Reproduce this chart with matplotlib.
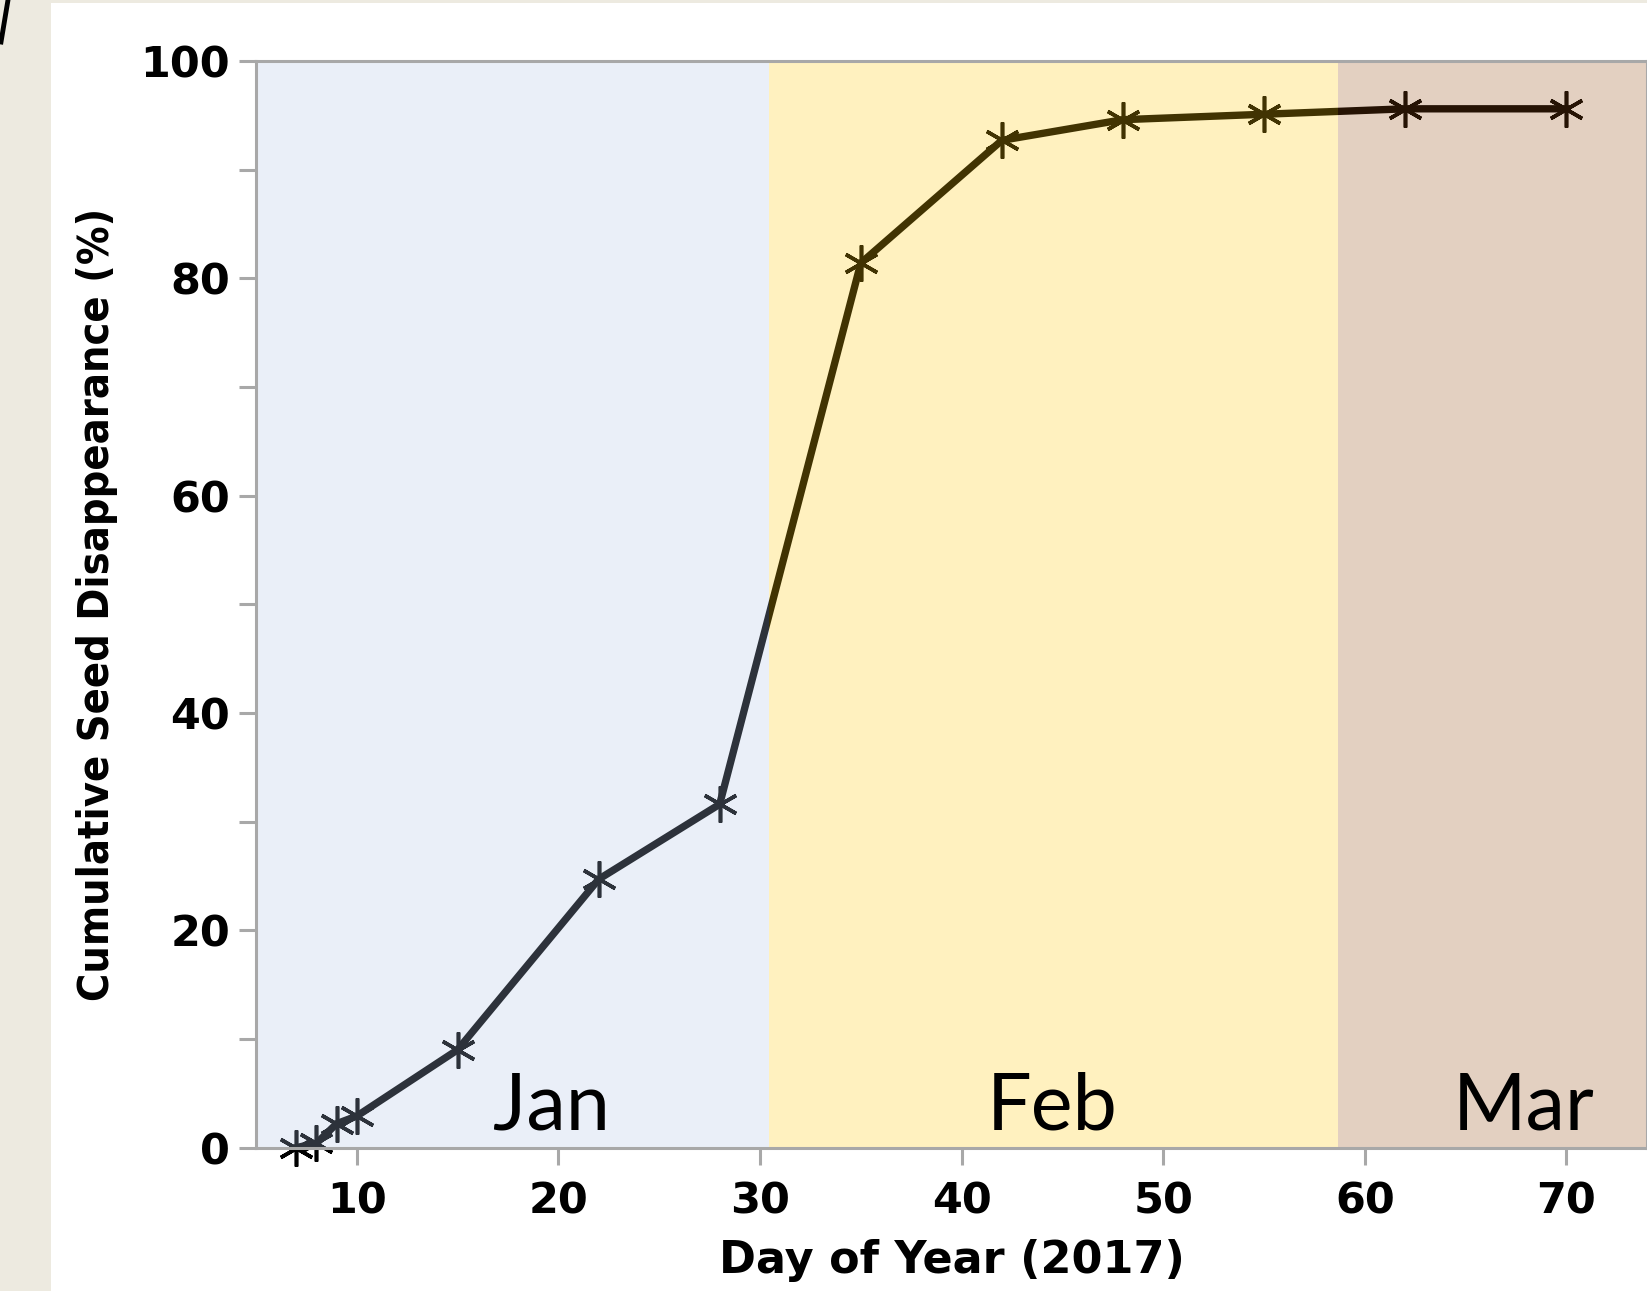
import matplotlib
matplotlib.use('Agg')
import matplotlib.pyplot as plt
from matplotlib.patches import Rectangle
from matplotlib.lines import Line2D

# dane
day = [7, 8, 9, 10, 15, 22, 28, 35, 42, 48, 55, 62, 70]
seed_loss = [0.0, 0.4, 2.2, 2.9, 9.0, 24.7, 31.6, 81.4, 92.7, 94.6, 95.1, 95.6, 95.6]

months = ['Jan', 'Feb', 'Mar']
month_edges = [5, 30.45, 58.65, 74]
month_colors = ['#b0c4e6', '#ffc909', '#934a11']

x_ticks = [10, 20, 30, 40, 50, 60, 70]
y_ticks = [0, 20, 40, 60, 80, 100]

fig = plt.figure(figsize=(16.47, 12.91), dpi=100, facecolor='#edeae0')
fig.patches.append(Rectangle((51 / 1647, 0), 1, 1 - 3 / 1291, transform=fig.transFigure,
                             facecolor='white', edgecolor='none', zorder=-10))
# kawalek ciemnej kreski w lewym gornym rogu (ucięty znak z oryginalu)
fig.lines.append(Line2D([8 / 1647, 1 / 1647], [1.0, 1 - 42 / 1291], transform=fig.transFigure,
                        color='black', linewidth=3.5))

ax = fig.add_axes([256 / 1647, 143.4 / 1291, 1 - 256 / 1647, 1086.6 / 1291])
ax.set_zorder(1)
ax.set_facecolor('white')

# linia z gwiazdkami
ax.plot(day, seed_loss, color='black', linewidth=5.3, marker=(6, 2, 0),
        markersize=26, markeredgewidth=2.6, markeredgecolor='black', zorder=2, clip_on=False)

# polprzezroczyste tla miesiecy (na wierzchu linii)
for i in range(len(months)):
    ax.axvspan(month_edges[i], month_edges[i + 1], color=month_colors[i], alpha=0.26,
               linewidth=0, zorder=3)

label_x = [19.65, 44.5, 67.9]
for m, lx in zip(months, label_x):
    ax.text(lx, 1.7, m, ha='center', va='baseline', fontsize=57, family='Lato', zorder=4)

ax.set_xlim(month_edges[0], month_edges[-1])
ax.set_ylim(0, 100)
ax.set_xticks(x_ticks)
ax.set_yticks(y_ticks)
ax.set_yticks(range(10, 100, 20), minor=True)

for s in ['top', 'bottom', 'left', 'right']:
    ax.spines[s].set_color('#a8a8a8')
    ax.spines[s].set_linewidth(2.2)
    ax.spines[s].set_zorder(5)

ax.tick_params(axis='both', which='both', color='#a8a8a8', width=2.2, length=12.5)
ax.tick_params(axis='x', pad=11)
ax.tick_params(axis='y', pad=6)
for lab in ax.get_xticklabels() + ax.get_yticklabels():
    lab.set_fontsize(31)
    lab.set_fontweight('bold')

ax.set_xlabel('Day of Year (2017)', fontsize=32, fontweight='bold', labelpad=12)
ax.set_ylabel('Cumulative Seed Disappearance (%)', fontsize=31, fontweight='bold',
              fontstretch='condensed', labelpad=16)

fig.savefig('out.png', dpi=100, facecolor=fig.get_facecolor())
